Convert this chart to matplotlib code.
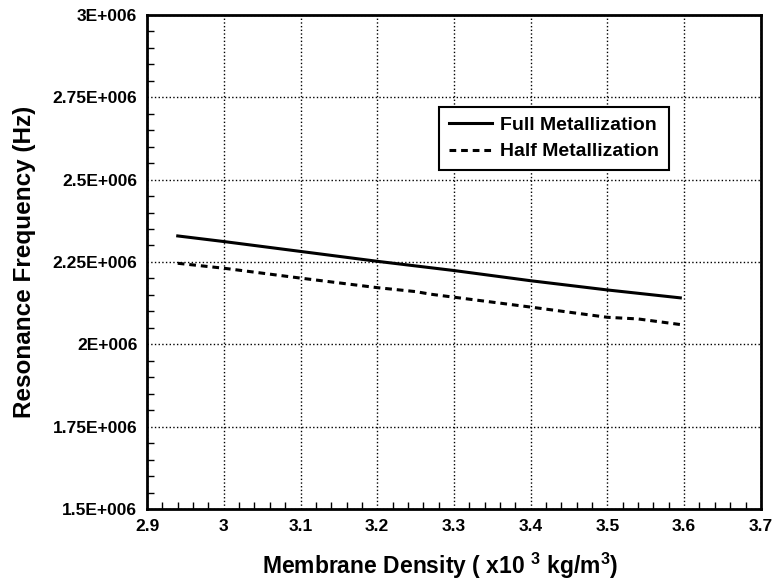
import matplotlib
matplotlib.use("Agg")
import matplotlib.pyplot as plt
from matplotlib.ticker import MultipleLocator, FuncFormatter

plt.rcParams['font.family'] = ['Liberation Sans', 'DejaVu Sans']
plt.rcParams['font.weight'] = 'bold'
plt.rcParams['mathtext.fontset'] = 'custom'
plt.rcParams['mathtext.rm'] = 'Liberation Sans:bold'
plt.rcParams['mathtext.default'] = 'rm'

full_x = [2.94, 3.0, 3.1, 3.2, 3.3, 3.4, 3.5, 3.595]
full_y = [2.329e6, 2.312e6, 2.282e6, 2.252e6, 2.224e6, 2.193e6, 2.165e6, 2.141e6]

half_x = [2.94, 3.0, 3.1, 3.2, 3.25, 3.27, 3.3, 3.4, 3.5, 3.54, 3.595]
half_y = [2.246e6, 2.231e6, 2.201e6, 2.172e6, 2.160e6, 2.152e6, 2.143e6, 2.113e6, 2.082e6, 2.077e6, 2.060e6]

y_tick_labels = ['1.5E+006', '1.75E+006', '2E+006', '2.25E+006', '2.5E+006', '2.75E+006', '3E+006']

fig = plt.figure(figsize=(7.78, 5.82), dpi=100)
ax = fig.add_axes([0.189, 0.1254, 0.789, 0.849])

ax.plot(full_x, full_y, color='black', lw=2.2, label='Full Metallization')
ax.plot(half_x, half_y, color='black', lw=2.2, ls=(0, (2.2, 1.6)), label='Half Metallization')

ax.set_xlim(2.9, 3.7)
ax.set_ylim(1.5e6, 3.0e6)
ax.xaxis.set_major_locator(MultipleLocator(0.1))
ax.xaxis.set_minor_locator(MultipleLocator(0.02))
ax.yaxis.set_major_locator(MultipleLocator(0.25e6))
ax.yaxis.set_minor_locator(MultipleLocator(0.05e6))

def xfmt(v, pos):
    return ('%.1f' % v).rstrip('0').rstrip('.')
ax.xaxis.set_major_formatter(FuncFormatter(xfmt))
ax.set_yticks([1.5e6 + 0.25e6 * i for i in range(len(y_tick_labels))])
ax.set_yticklabels(y_tick_labels)

ax.grid(True, which='major', color='black', ls=':', lw=1.0)
ax.tick_params(which='major', direction='in', length=0, labelsize=12.5, pad=7, width=1)
ax.tick_params(which='minor', direction='in', length=5, width=1)
for s in ax.spines.values():
    s.set_linewidth(2)

for lab in ax.get_xticklabels() + ax.get_yticklabels():
    lab.set_fontweight('bold')

ax.set_xlabel('Membrane Density ( x10 $^{3}$ kg/m$^{3}$)', fontsize=16.5, fontweight='bold', labelpad=10)
ax.xaxis.set_label_coords(0.477, -0.085)
ax.set_ylabel('Resonance Frequency (Hz)', fontsize=17.5, fontweight='bold', labelpad=12)

leg = ax.legend(loc='upper left', bbox_to_anchor=(0.476, 0.814), fancybox=False,
                framealpha=1, edgecolor='black', fontsize=14, handlelength=2.2,
                borderpad=0.5, labelspacing=0.45, handletextpad=0.45, borderaxespad=0)
leg.get_frame().set_linewidth(1.5)
for t in leg.get_texts():
    t.set_fontweight('bold')

fig.savefig('out.png', dpi=100)
